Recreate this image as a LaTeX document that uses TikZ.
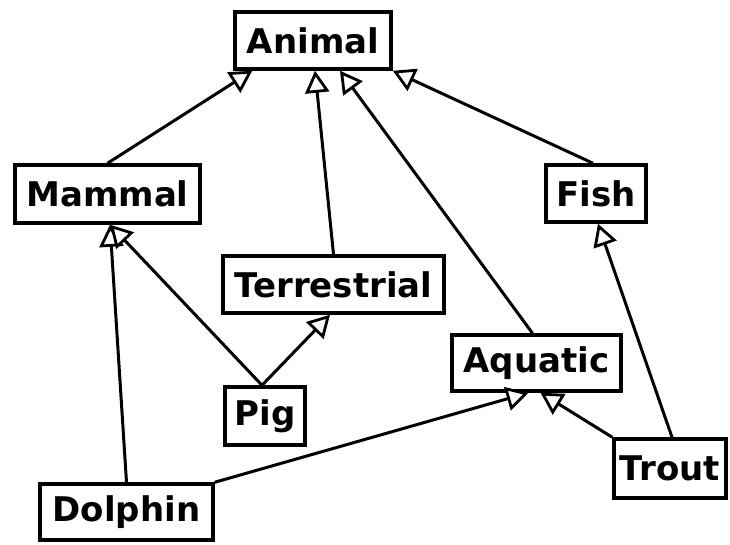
\documentclass[tikz,border=0pt]{standalone}
\usepackage{fontspec}
\setmainfont{DejaVu Sans}
\usetikzlibrary{arrows.meta}
\tikzset{
  cls/.style={draw=black, line width=3.5pt, fill=white, inner sep=0pt,
    font=\fontsize{34}{40}\selectfont\bfseries, anchor=center},
  inh/.style={line width=3pt, line cap=butt,
    -{Triangle[open, length=22pt, width=24pt, line width=2.8pt, fill=white]}}
}
\begin{document}
\begin{tikzpicture}[x=1pt,y=-1pt]
\useasboundingbox (0,0) rectangle (730,544);
\node[cls, minimum width=156pt, minimum height=57pt] (animal) at (313,40.5) {Animal};
\node[cls, minimum width=185pt, minimum height=58pt] (mammal) at (107.5,194) {Mammal};
\node[cls, minimum width=100pt, minimum height=57pt] (fish) at (596,193.5) {Fish};
\node[cls, minimum width=221pt, minimum height=57pt] (terr) at (333.5,284.5) {Terrestrial};
\node[cls, minimum width=169pt, minimum height=56pt] (aqua) at (536.5,363) {Aquatic};
\node[cls, minimum width=80pt, minimum height=58pt] (pig) at (265,416) {Pig};
\node[cls, minimum width=112pt, minimum height=59pt] (trout) at (670,468.5) {Trout};
\node[cls, minimum width=173pt, minimum height=56pt] (dolphin) at (126.5,512) {Dolphin};

\draw[inh] (mammal.north) -- ([xshift=19pt]animal.south west);
\draw[inh] (terr.north) -- ([xshift=2pt]animal.south);
\draw[inh] ([xshift=-4pt]aqua.north) -- ([xshift=27pt]animal.south);
\draw[inh] ([xshift=-3pt]fish.north) -- (animal.south east);
\draw[inh] (dolphin.north) -- ([xshift=2.5pt]mammal.south);
\draw[inh] ([xshift=-3pt]pig.north) -- ([xshift=2.5pt]mammal.south);
\draw[inh] ([xshift=-3pt]pig.north) -- ([xshift=-3.5pt]terr.south);
\draw[inh] ([xshift=2pt]trout.north) -- ([xshift=2pt]fish.south);
\draw[inh] (trout.north west) -- ([xshift=4pt]aqua.south);
\draw[inh] (dolphin.north east) -- ([xshift=-8pt]aqua.south);
\end{tikzpicture}
\end{document}
